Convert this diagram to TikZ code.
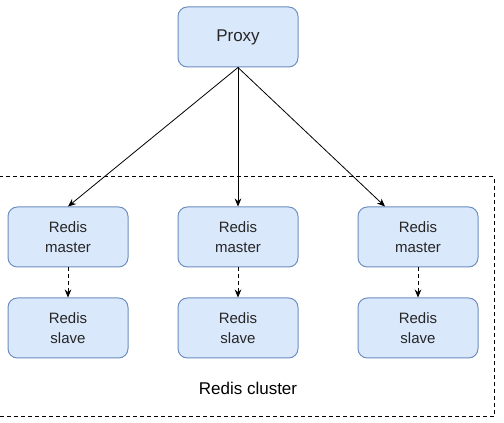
\documentclass[tikz,border=0pt]{standalone}
\usepackage{fontspec}
\setmainfont{Liberation Sans}
\usetikzlibrary{arrows.meta,positioning}
\definecolor{boxfill}{HTML}{DAE8FC}
\definecolor{boxline}{HTML}{6C8EBF}
\begin{document}
\begin{tikzpicture}[x=0.75pt,y=-0.75pt,
	redisbox/.style={draw=boxline,fill=boxfill,rounded corners=7pt,minimum width=90pt,minimum height=45pt,
		align=center,text=black!85,line width=0.75pt,font=\fontsize{11.25}{15}\selectfont},
	link/.style={-{Stealth[length=6pt,width=5pt]},line width=0.6pt}]
	  \useasboundingbox (0,0) rectangle (504,423);
	  \draw[dash pattern=on 3pt off 2.25pt,line width=0.75pt] (-5,177) rectangle (494,417);   % cluster frame

	  \node[redisbox,font=\fontsize{12.75}{15}\selectfont] (proxy) at (238,37) {Proxy};

	  % masters with their slaves
	  \foreach \i/\x in {1/68,2/238,3/418}{
	    \node[redisbox] (master\i) at (\x,237) {Redis\\master};
	    \node[redisbox,below=22.5pt of master\i] (slave\i) {Redis\\slave};
	    \draw[link,dash pattern=on 3pt off 2.25pt] (master\i) -- (slave\i);
	  }

	  \draw[link] (proxy.south) -- (master1.north);
	  \draw[link] (proxy.south) -- (master2.north);
	  \draw[link] (proxy.south) -- ([xshift=-24.75pt]master3.north);

	  \node[font=\fontsize{12.75}{15}\selectfont] (cluster) at (248,388) {Redis cluster};
	\end{tikzpicture}
\end{document}
